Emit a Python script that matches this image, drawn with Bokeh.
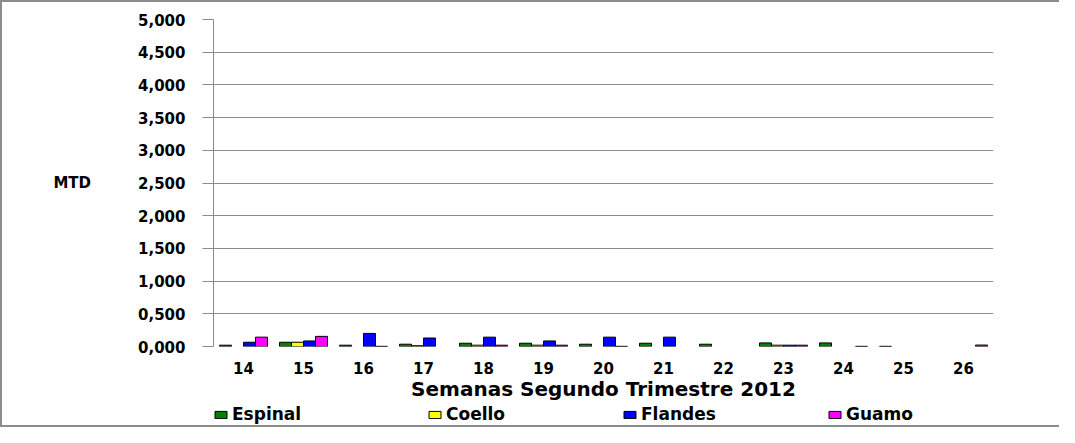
import numpy as np
from bokeh.plotting import figure
from bokeh.layouts import column
from bokeh.models import (ColumnDataSource, FactorRange, Range1d, FixedTicker,
                          CustomJSTickFormatter, Legend, LegendItem)
from bokeh.transform import dodge
from bokeh.embed import file_html
from bokeh.resources import INLINE

# ---- data ----
weeks = ["14", "15", "16", "17", "18", "19", "20", "21", "22", "23", "24", "25", "26"]
espinal = [0.02, 0.065, 0.02, 0.035, 0.05, 0.05, 0.035, 0.05, 0.035, 0.055, 0.055, 0.003, None]
coello = [None, 0.065, None, 0.012, 0.02, 0.02, None, None, None, 0.02, None, None, None]
flandes = [0.065, 0.085, 0.20, 0.13, 0.143, 0.085, 0.143, 0.143, None, 0.02, None, None, None]
guamo = [0.143, 0.155, 0.003, None, 0.02, 0.02, 0.003, None, None, 0.02, 0.003, None, 0.022]

series_names = ["Espinal", "Coello", "Flandes", "Guamo"]
series_colors = ["#008000", "#FFFF00", "#0000FF", "#FF00FF"]
y_ticks = [0, 0.5, 1, 1.5, 2, 2.5, 3, 3.5, 4, 4.5, 5]

def arr(v):
    return np.array([np.nan if x is None else x for x in v], dtype=float)

src = ColumnDataSource(data=dict(
    week=weeks,
    Espinal=arr(espinal), Coello=arr(coello), Flandes=arr(flandes), Guamo=arr(guamo)))

FONT = "DejaVu Sans"
GRAY = "#8c8c8c"
offsets = [-0.3, -0.1, 0.1, 0.3]

# ---------------- main chart ----------------
p = figure(x_range=FactorRange(factors=weeks, range_padding=0), y_range=(0, 5),
           width=1057, height=401, output_backend="svg", toolbar_location=None,
           min_border_left=211, min_border_right=66, min_border_top=17, min_border_bottom=55)
p.outline_line_color = None
p.background_fill_color = "white"
p.border_fill_color = "white"

for name, color, off in zip(series_names, series_colors, offsets):
    p.vbar(x=dodge("week", off, range=p.x_range), top=name, bottom=0, width=0.2,
           source=src, fill_color=color, line_color="black", line_width=1)

# y axis
p.yaxis.ticker = FixedTicker(ticks=y_ticks)
p.yaxis.formatter = CustomJSTickFormatter(code="return tick.toFixed(3).replace('.', ',');")
p.yaxis.axis_line_color = GRAY
p.yaxis.major_tick_line_color = GRAY
p.yaxis.major_tick_out = 11
p.yaxis.major_tick_in = 0
p.yaxis.minor_tick_line_color = None
p.yaxis.major_label_text_font = FONT
p.yaxis.major_label_text_font_style = "bold"
p.yaxis.major_label_text_font_size = "15px"
p.yaxis.major_label_text_color = "black"
p.yaxis.major_label_standoff = 17
p.yaxis.axis_label = "MTD"
p.yaxis.axis_label_orientation = "horizontal"
p.yaxis.axis_label_text_font = FONT
p.yaxis.axis_label_text_font_style = "bold"
p.yaxis.axis_label_text_font_size = "15px"
p.yaxis.axis_label_text_color = "black"
p.yaxis.axis_label_standoff = 44

# grid
p.ygrid.ticker = FixedTicker(ticks=y_ticks[1:])
p.ygrid.grid_line_color = GRAY
p.ygrid.grid_line_width = 1
p.xgrid.grid_line_color = None

# x axis
p.xaxis.axis_line_color = None
p.xaxis.major_tick_line_color = None
p.xaxis.major_tick_out = 0
p.xaxis.major_label_text_font = FONT
p.xaxis.major_label_text_font_style = "bold"
p.xaxis.major_label_text_font_size = "15px"
p.xaxis.major_label_text_color = "black"
p.xaxis.major_label_standoff = 15
p.xaxis.axis_label = "Semanas Segundo Trimestre 2012"
p.xaxis.axis_label_text_font = FONT
p.xaxis.axis_label_text_font_style = "bold"
p.xaxis.axis_label_text_font_size = "20px"
p.xaxis.axis_label_text_color = "black"
p.xaxis.axis_label_standoff = 0

# ---------------- legend strip ----------------
leg = figure(x_range=FactorRange(factors=weeks, range_padding=0), y_range=Range1d(10, 11),
             width=1057, height=22, output_backend="svg", toolbar_location=None,
             min_border_left=0, min_border_right=0, min_border_top=0, min_border_bottom=0)
leg.axis.visible = False
leg.grid.visible = False
leg.outline_line_color = None
leg.background_fill_color = "white"
leg.border_fill_color = "white"

legend_x = [0, 214, 409, 614]
for name, color, off, lx in zip(series_names, series_colors, offsets, legend_x):
    r = leg.vbar(x=dodge("week", off, range=leg.x_range), top=name, bottom=0, width=0.2,
                 source=src, fill_color=color, line_color="black", line_width=1)
    lg = Legend(items=[LegendItem(label=name, renderers=[r])], location=(lx, 1),
                orientation="horizontal", padding=0, margin=0, spacing=0,
                border_line_color=None, background_fill_alpha=0,
                glyph_width=15, glyph_height=9, label_standoff=4, label_height=18,
                label_text_font=FONT, label_text_font_style="bold",
                label_text_font_size="17px", label_text_color="black")
    leg.add_layout(lg, "center")

layout = column(p, leg, spacing=0,
                styles={"border-left": "2px solid #8c8c8c", "border-top": "2px solid #8c8c8c",
                        "border-bottom": "2px solid #8c8c8c"})

open("out.html", "w").write(file_html(layout, INLINE))
